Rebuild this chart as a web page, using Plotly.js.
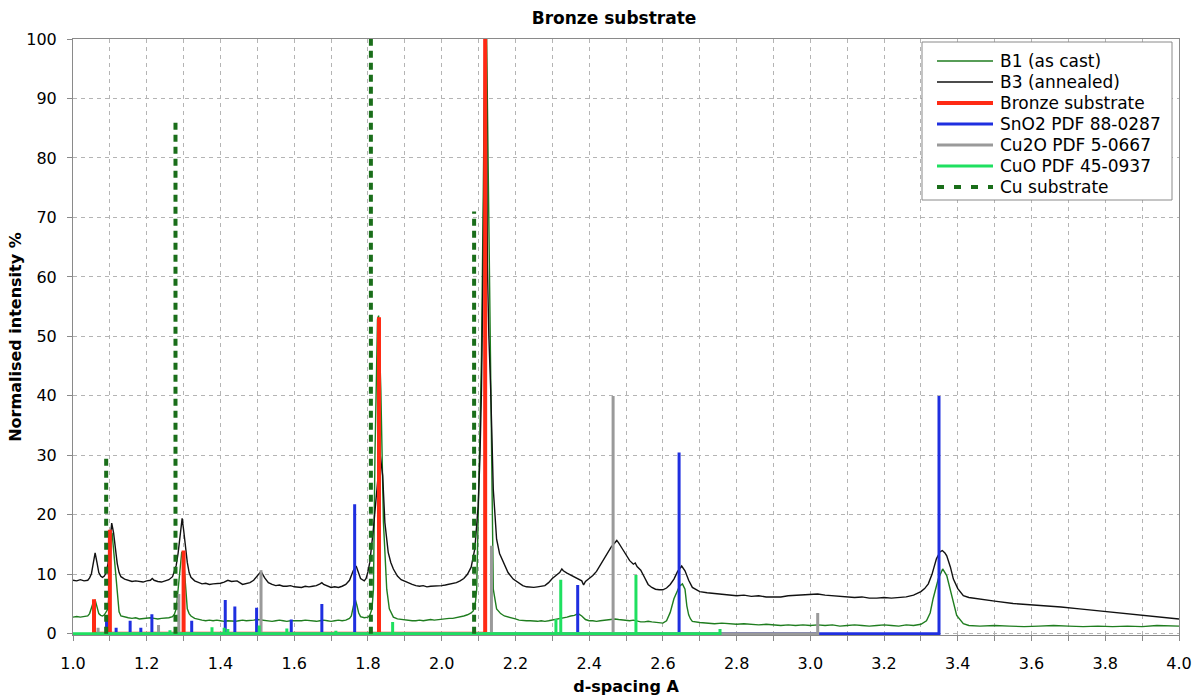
<!DOCTYPE html>
<html>
<head>
<meta charset="utf-8">
<script src="https://cdn.plot.ly/plotly-3.0.1.min.js"></script>
<style>
  html, body { margin: 0; padding: 0; background: #fff; }
  #chart { width: 1204px; height: 699px; }
</style>
</head>
<body>
<div id="chart"></div>
<script>
// Measured diffraction patterns: [d-spacing (A), normalised intensity %]
const b1AsCast = [
  [1.00,2.8],[1.01,2.9],[1.02,2.8],[1.03,2.9],[1.04,3.0],[1.045,3.4],[1.05,4.3],[1.055,5.3],[1.06,5.7],
  [1.065,4.6],[1.07,3.4],[1.075,3.1],[1.08,3.0],[1.085,3.2],[1.09,3.6],[1.095,4.2],[1.098,7.0],[1.10,11.0],
  [1.103,15.5],[1.106,17.0],[1.109,15.0],[1.113,11.5],[1.117,8.5],[1.12,6.5],[1.125,3.7],[1.13,3.0],
  [1.14,2.8],[1.15,2.7],[1.16,2.6],[1.17,2.7],[1.18,2.5],[1.19,2.6],[1.20,2.6],[1.21,2.7],[1.22,2.6],
  [1.23,2.5],[1.24,2.6],[1.25,2.6],[1.26,2.7],[1.27,2.9],[1.275,3.3],[1.28,4.2],[1.285,7.5],[1.29,11.0],
  [1.295,13.8],[1.30,12.5],[1.305,8.0],[1.31,4.2],[1.315,3.4],[1.32,3.0],[1.33,2.6],[1.34,2.4],[1.35,2.3],
  [1.36,2.2],[1.37,2.3],[1.38,2.2],[1.39,2.3],[1.40,2.2],[1.41,2.1],[1.42,2.2],[1.43,2.1],[1.44,2.1],
  [1.45,2.2],[1.46,2.3],[1.47,2.2],[1.48,2.2],[1.49,2.3],[1.50,2.4],[1.51,2.3],[1.52,2.2],[1.53,2.2],
  [1.54,2.1],[1.55,2.2],[1.56,2.3],[1.57,2.2],[1.58,2.1],[1.59,2.2],[1.60,2.2],[1.61,2.1],[1.62,2.2],
  [1.63,2.3],[1.64,2.2],[1.65,2.2],[1.66,2.1],[1.67,2.2],[1.68,2.3],[1.69,2.2],[1.70,2.1],[1.71,2.2],
  [1.72,2.3],[1.73,2.2],[1.74,2.3],[1.75,2.6],[1.755,3.0],[1.76,4.5],[1.765,5.9],[1.77,4.8],[1.775,3.5],
  [1.78,2.9],[1.79,2.7],[1.80,2.8],[1.805,3.1],[1.811,4.2],[1.815,7.5],[1.819,29.9],[1.826,52.9],
  [1.829,53.5],[1.835,41.0],[1.842,18.8],[1.851,7.5],[1.858,4.2],[1.869,2.8],[1.88,2.5],[1.89,2.4],
  [1.90,2.3],[1.91,2.2],[1.92,2.2],[1.93,2.2],[1.94,2.3],[1.95,2.2],[1.96,2.3],[1.97,2.4],[1.98,2.3],
  [1.99,2.4],[2.00,2.5],[2.01,2.5],[2.02,2.6],[2.03,2.6],[2.04,2.7],[2.05,2.8],[2.06,3.0],[2.07,3.2],
  [2.08,3.5],[2.086,3.9],[2.092,5.5],[2.095,7.5],[2.099,18.8],[2.104,32.0],[2.108,46.7],[2.113,75.0],
  [2.117,100],[2.122,100],[2.128,70.0],[2.132,45.0],[2.136,29.9],[2.14,7.5],[2.149,4.2],[2.16,3.4],
  [2.17,3.0],[2.185,2.8],[2.20,2.5],[2.21,2.3],[2.22,2.2],[2.23,2.2],[2.24,2.2],[2.25,2.1],[2.26,2.1],
  [2.27,2.2],[2.28,2.1],[2.29,2.2],[2.30,2.3],[2.31,2.4],[2.32,2.5],[2.33,2.7],[2.34,2.8],[2.35,3.0],
  [2.36,3.1],[2.37,3.4],[2.38,3.0],[2.39,2.4],[2.40,2.2],[2.41,2.2],[2.42,2.1],[2.43,2.2],[2.44,2.3],
  [2.45,2.3],[2.46,2.4],[2.47,2.5],[2.48,2.4],[2.49,2.3],[2.50,2.2],[2.51,2.2],[2.52,2.3],[2.53,2.1],
  [2.54,2.0],[2.55,2.0],[2.56,2.1],[2.57,2.0],[2.58,1.9],[2.59,1.9],[2.60,1.8],[2.61,2.2],[2.62,3.6],
  [2.63,5.9],[2.645,8.0],[2.653,8.4],[2.66,7.5],[2.665,4.7],[2.67,3.2],[2.675,2.5],[2.68,2.1],[2.70,1.9],
  [2.72,1.8],[2.74,1.7],[2.76,1.8],[2.78,1.7],[2.80,1.6],[2.82,1.7],[2.84,1.6],[2.86,1.5],[2.88,1.6],
  [2.90,1.5],[2.92,1.4],[2.94,1.5],[2.96,1.4],[2.98,1.5],[3.00,1.4],[3.02,1.5],[3.04,1.4],[3.06,1.5],
  [3.08,1.3],[3.10,1.4],[3.12,1.5],[3.14,1.4],[3.16,1.3],[3.18,1.4],[3.20,1.5],[3.22,1.4],[3.24,1.3],
  [3.26,1.5],[3.28,1.4],[3.30,1.6],[3.315,2.2],[3.325,3.5],[3.333,5.9],[3.347,9.2],[3.359,10.9],
  [3.37,9.8],[3.383,6.4],[3.397,3.1],[3.415,1.7],[3.43,1.4],[3.46,1.3],[3.50,1.4],[3.54,1.3],[3.58,1.2],
  [3.62,1.3],[3.66,1.4],[3.70,1.3],[3.74,1.2],[3.78,1.3],[3.82,1.2],[3.86,1.3],[3.90,1.2],[3.94,1.4],
  [3.98,1.3],[4.00,1.3]
];

const b3Annealed = [
  [1.00,9.0],[1.01,8.9],[1.02,9.1],[1.03,8.9],[1.04,9.0],[1.045,9.4],[1.05,10.1],[1.055,12.0],[1.06,13.6],
  [1.065,12.0],[1.07,10.3],[1.075,9.7],[1.08,9.5],[1.085,9.7],[1.09,10.3],[1.095,11.8],[1.10,15.9],
  [1.105,18.6],[1.11,17.0],[1.115,14.2],[1.12,11.8],[1.125,10.3],[1.13,9.6],[1.14,9.2],[1.15,9.0],
  [1.16,8.8],[1.17,8.9],[1.18,8.8],[1.19,8.7],[1.20,8.9],[1.21,9.0],[1.215,9.3],[1.22,9.0],[1.23,8.8],
  [1.24,8.7],[1.25,8.9],[1.26,9.1],[1.27,9.6],[1.28,11.5],[1.285,13.5],[1.29,15.9],[1.296,19.4],
  [1.30,17.5],[1.305,14.2],[1.31,12.0],[1.315,10.3],[1.32,9.5],[1.33,8.9],[1.34,8.6],[1.35,8.4],
  [1.36,8.5],[1.37,8.3],[1.38,8.4],[1.39,8.4],[1.40,8.5],[1.41,8.7],[1.42,9.0],[1.43,8.8],[1.445,8.9],
  [1.46,8.3],[1.47,8.4],[1.48,8.6],[1.49,9.0],[1.50,9.8],[1.51,10.5],[1.52,9.4],[1.53,8.6],[1.54,8.3],
  [1.55,8.1],[1.56,8.2],[1.57,8.0],[1.58,8.0],[1.59,8.1],[1.60,7.9],[1.61,7.9],[1.62,7.8],[1.63,8.0],
  [1.64,7.9],[1.65,8.0],[1.66,8.1],[1.67,8.4],[1.675,8.6],[1.68,8.3],[1.69,8.0],[1.70,7.8],[1.71,7.9],
  [1.72,7.8],[1.73,8.0],[1.74,8.3],[1.75,9.0],[1.76,10.6],[1.768,11.4],[1.775,10.0],[1.78,9.3],
  [1.79,8.9],[1.795,9.3],[1.80,10.4],[1.805,12.0],[1.814,17.1],[1.824,24.3],[1.833,30.2],[1.84,26.6],
  [1.846,18.7],[1.855,13.7],[1.862,12.0],[1.869,10.9],[1.88,9.7],[1.89,9.1],[1.90,8.8],[1.91,8.5],
  [1.92,8.3],[1.93,8.1],[1.94,8.0],[1.95,8.1],[1.96,7.9],[1.97,8.0],[1.98,8.0],[1.99,8.1],[2.00,8.1],
  [2.01,8.2],[2.02,8.3],[2.03,8.4],[2.04,8.6],[2.05,8.9],[2.06,9.3],[2.07,10.0],[2.08,11.2],[2.09,14.3],
  [2.099,21.5],[2.104,30.0],[2.108,41.0],[2.112,60.0],[2.115,80.0],[2.118,100],[2.121,100],[2.124,62.0],
  [2.128,50.0],[2.133,41.0],[2.14,24.3],[2.149,15.9],[2.157,13.5],[2.167,12.0],[2.18,10.3],[2.194,9.2],
  [2.21,8.5],[2.22,8.1],[2.23,7.9],[2.24,7.8],[2.25,7.8],[2.26,7.9],[2.27,8.0],[2.28,8.1],[2.29,8.6],
  [2.30,9.3],[2.31,9.8],[2.32,10.3],[2.326,10.9],[2.33,10.6],[2.34,10.2],[2.35,9.9],[2.36,9.6],
  [2.37,9.3],[2.38,8.9],[2.385,8.2],[2.39,8.8],[2.40,9.3],[2.41,9.8],[2.42,10.5],[2.43,11.5],[2.44,12.4],
  [2.45,13.5],[2.46,14.6],[2.475,15.7],[2.48,15.3],[2.49,14.3],[2.50,13.2],[2.51,12.3],[2.52,11.7],
  [2.525,11.9],[2.53,11.3],[2.54,10.7],[2.55,9.5],[2.56,8.3],[2.57,7.8],[2.58,7.5],[2.59,7.4],[2.60,7.4],
  [2.61,7.7],[2.62,8.3],[2.63,9.2],[2.64,10.5],[2.651,11.4],[2.66,10.6],[2.665,9.8],[2.67,9.0],
  [2.68,7.8],[2.69,7.4],[2.70,7.1],[2.72,6.9],[2.74,6.8],[2.76,6.7],[2.78,6.6],[2.80,6.4],[2.82,6.5],
  [2.84,6.3],[2.86,6.4],[2.88,6.2],[2.90,6.2],[2.92,6.2],[2.94,6.4],[2.96,6.5],[2.98,6.6],[3.00,6.6],
  [3.02,6.7],[3.04,6.5],[3.06,6.4],[3.08,6.3],[3.10,6.2],[3.12,6.1],[3.14,6.2],[3.16,6.0],[3.18,6.0],
  [3.20,6.1],[3.22,6.0],[3.24,6.1],[3.26,6.2],[3.28,6.5],[3.30,7.1],[3.31,7.6],[3.32,8.4],[3.33,10.0],
  [3.342,12.6],[3.352,13.8],[3.358,14.0],[3.365,13.6],[3.37,13.1],[3.38,11.2],[3.388,9.2],[3.40,7.6],
  [3.415,6.4],[3.43,6.1],[3.46,5.8],[3.50,5.5],[3.55,5.1],[3.60,4.9],[3.64,4.7],[3.68,4.5],[3.73,4.2],
  [3.78,3.9],[3.82,3.6],[3.86,3.4],[3.91,3.1],[3.95,2.9],[4.00,2.5]
];

// Reference stick patterns: d-spacings and relative heights
const bronzeD = [1.057, 1.100, 1.300, 1.830, 2.118];
const bronzeI = [5.8, 17.5, 14.0, 53.2, 100];

const sno2D = [1.091, 1.117, 1.155, 1.184, 1.214, 1.322, 1.413, 1.439, 1.498, 1.592, 1.675, 1.764, 2.369, 2.644, 3.349];
const sno2I = [2.6, 1.0, 2.2, 1.0, 3.3, 2.2, 5.7, 4.6, 4.4, 2.4, 5.0, 21.8, 8.2, 30.5, 40.0];

const cu2oD = [1.068, 1.232, 1.287, 1.510, 2.135, 2.465, 3.020];
const cu2oI = [1.0, 1.5, 6.7, 10.7, 14.8, 40.0, 3.5];

const cuoD = [0.985, 1.263, 1.377, 1.410, 1.420, 1.505, 1.580, 1.713, 1.867, 2.310, 2.323, 2.527, 2.755];
const cuoI = [0.5, 0.6, 1.1, 1.0, 0.8, 1.4, 0.9, 0.5, 2.0, 2.5, 9.1, 9.9, 0.8];

const cuD = [1.090, 1.278, 1.808, 2.088];
const cuI = [29.5, 86.6, 100, 71.0];

const FONT = 'DejaVu Sans, Verdana, sans-serif';

function curve(points, name, color) {
  return {
    type: 'scatter', mode: 'lines', name: name,
    x: points.map(p => p[0]), y: points.map(p => p[1]),
    line: { color: color, width: 1.4 }
  };
}

// Joined sticks: each rises from the baseline and returns to it before the next one
function sticks(ds, hs, name, color, width) {
  const x = [], y = [];
  ds.forEach((d, i) => { x.push(d, d, d); y.push(0, hs[i], 0); });
  return {
    type: 'scatter', mode: 'lines', name: name, x: x, y: y,
    line: { color: color, width: width }
  };
}

// Separate dashed sticks, one segment per reflection
function dashedSticks(ds, hs, name, color, width, dash) {
  const x = [], y = [];
  ds.forEach((d, i) => { x.push(d, d, null); y.push(0, hs[i], null); });
  return {
    type: 'scatter', mode: 'lines', name: name, x: x, y: y, connectgaps: false,
    line: { color: color, width: width, dash: dash }
  };
}

const traces = [
  curve(b1AsCast, 'B1 (as cast)', '#1f7d1f'),
  curve(b3Annealed, 'B3 (annealed)', '#111111'),
  sticks(bronzeD, bronzeI, 'Bronze substrate', '#ff2a14', 4),
  sticks(sno2D, sno2I, 'SnO2 PDF 88-0287', '#1f2fe0', 3),
  sticks(cu2oD, cu2oI, 'Cu2O PDF 5-0667', '#9a9a9a', 3),
  sticks(cuoD, cuoI, 'CuO PDF 45-0937', '#1fe060', 3),
  dashedSticks(cuD, cuI, 'Cu substrate', '#1a6e1a', 4, '7px,5px')
];

// Legend key box in the upper right, one row per trace (pixel layout of the plot frame)
const PLOT = { l: 73, r: 1179, t: 39, b: 635 };
const px = v => (v - PLOT.l) / (PLOT.r - PLOT.l);
const py = v => (PLOT.b - v) / (PLOT.b - PLOT.t);
const KEY = { left: 922, right: 1172, top: 42, bottom: 200, row0: 61, rowStep: 21, lineX0: 937, lineX1: 993, textX: 998 };

const keyShapes = [{
  type: 'rect', xref: 'paper', yref: 'paper', layer: 'above',
  x0: px(KEY.left), x1: px(KEY.right), y0: py(KEY.bottom), y1: py(KEY.top),
  fillcolor: '#fff', line: { color: '#8a8a8a', width: 1 }
}];
const keyLabels = [];
traces.forEach((t, i) => {
  const yRow = py(KEY.row0 + i * KEY.rowStep);
  keyShapes.push({
    type: 'line', xref: 'paper', yref: 'paper', layer: 'above',
    x0: px(KEY.lineX0), x1: px(KEY.lineX1), y0: yRow, y1: yRow,
    line: { color: t.line.color, width: t.line.width, dash: t.line.dash === '7px,5px' ? '7px,10px' : 'solid' }
  });
  keyLabels.push({
    xref: 'paper', yref: 'paper', x: px(KEY.textX), y: yRow,
    xanchor: 'left', yanchor: 'middle', showarrow: false, text: t.name,
    font: { family: FONT, size: 17, color: '#000' }
  });
});

const gridStyle = { gridcolor: '#b4b4b4', gridwidth: 1, griddash: '4px,4px' };

const layout = {
  width: 1204, height: 699,
  margin: { l: 73, r: 25, t: 39, b: 64 },
  paper_bgcolor: '#fff', plot_bgcolor: '#fff',
  font: { family: FONT, size: 16, color: '#000' },
  title: {
    text: 'Bronze substrate', x: 0.51, xanchor: 'center', y: 0.974, yanchor: 'middle',
    font: { family: FONT, size: 17, weight: 'bold', color: '#000' }
  },
  showlegend: false,
  shapes: keyShapes,
  annotations: keyLabels,
  xaxis: Object.assign({
    range: [1, 4], tick0: 1, dtick: 0.2, tickformat: '.1f',
    showline: true, linecolor: '#8a8a8a', linewidth: 1, mirror: true,
    ticks: 'outside', ticklen: 5, tickcolor: '#8a8a8a', ticklabelstandoff: 9,
    tickfont: { family: FONT, size: 16 },
    zeroline: false, layer: 'below traces', showgrid: true,
    minor: Object.assign({ dtick: 0.1, ticks: 'outside', ticklen: 5, tickcolor: '#8a8a8a', showgrid: true }, gridStyle),
    title: { text: 'd-spacing A', standoff: 8, font: { family: FONT, size: 16, weight: 'bold' } }
  }, gridStyle),
  yaxis: Object.assign({
    range: [-0.2, 100], tick0: 0, dtick: 10,
    showline: true, linecolor: '#8a8a8a', linewidth: 1, mirror: true,
    ticks: 'outside', ticklen: 5, tickcolor: '#8a8a8a', ticklabelstandoff: 7,
    tickfont: { family: FONT, size: 16 },
    zeroline: false, layer: 'below traces', showgrid: true,
    title: { text: 'Normalised intensity %', standoff: 0, font: { family: FONT, size: 16, weight: 'bold' } }
  }, gridStyle)
};

Plotly.newPlot('chart', traces, layout, { displayModeBar: false, staticPlot: true });
</script>
</body>
</html>
